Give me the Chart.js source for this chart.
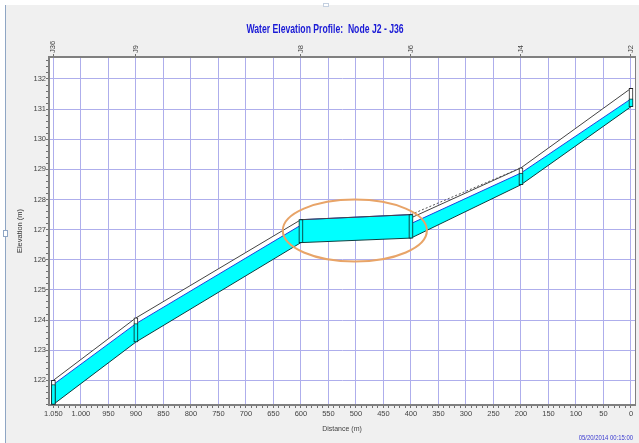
<!DOCTYPE html>
<html>
<head>
<meta charset="utf-8">
<title>Water Elevation Profile</title>
<script src="https://cdn.jsdelivr.net/npm/chart.js@4"></script>
<style>
  html, body { margin: 0; padding: 0; background: #ffffff; overflow: hidden; }
  #frame { position: absolute; left: 5px; top: 5px; width: 634px; height: 438px; background: #f0f0f0; border-left: 1px solid #8fa6c4; box-sizing: border-box; }
  #handle-left { position: absolute; left: 3px; top: 230px; width: 3px; height: 5px; background: #ffffff; border: 1px solid #8fa6c4; }
  #handle-top { position: absolute; left: 323px; top: 3px; width: 4px; height: 2px; background: #ffffff; border: 1px solid #c4d0e0; }
  #chart { position: absolute; left: 0; top: 0; }
</style>
</head>
<body>
<div id="frame"></div>
<div id="handle-left"></div>
<div id="handle-top"></div>
<canvas id="chart" width="639" height="443"></canvas>
<script>
// Profile vertices, 600 and 400 appear twice because the levels jump there
var distances = [1050, 900, 600, 600, 400, 400, 200, 0];
var invertLevels = [121.2, 123.27, 126.57, 126.57, 126.72, 126.72, 128.49, 131.08];
var waterLevels = [121.86, 123.88, 127.15, 127.33, 127.5, 127.2, 128.88, 131.34];
var crownLevels = [122.0, 124.07, 127.33, 127.33, 127.5, 127.39, 129.05, 131.69];

// Nodes along the profile
var nodeNames = ['J36', 'J9', 'J8', 'J6', 'J4', 'J2'];
var nodeDistances = [1050, 900, 600, 400, 200, 0];
var nodeInverts = [121.2, 123.27, 126.57, 126.72, 128.49, 131.08];
var nodeWater = [121.86, 123.88, 127.33, 127.5, 128.88, 131.34];
var nodeCrowns = [122.0, 124.07, 127.33, 127.5, 129.05, 131.69];

// Dotted line between J6 and J4
var dottedDistances = [400, 200];
var dottedLevels = [127.5, 129.05];

// Orange highlight: centre distance, centre elevation, half width, half height
var highlight = [502, 126.97, 131, 1.03];

var xRange = [-7.3, 1058];
var yRange = [121.18, 132.73];

var chartTitle = 'Water Elevation Profile:  Node J2 - J36';
var timestamp = '05/20/2014 00:15:00';

function toPoints(xs, ys) {
  return xs.map(function(x, i) { return { x: x, y: ys[i] }; });
}

function toBars(xs, lows, highs) {
  return xs.map(function(x, i) { return { x: x, y: [lows[i], highs[i]] }; });
}

// Tick list on a fixed step, only the values inside the axis range
function stepTicks(scale, stepTenths) {
  var ticks = [];
  var first = Math.ceil(scale.min * 10 / stepTenths);
  var last = Math.floor(scale.max * 10 / stepTenths);
  for (var k = first; k <= last; k++) {
    ticks.push({ value: k * stepTenths / 10 });
  }
  scale.ticks = ticks;
}

function isWhole(v, step) {
  return Math.abs(v / step - Math.round(v / step)) < 1e-6;
}

function formatDistance(v) {
  return v >= 1000 ? '1.' + String(v - 1000).padStart(3, '0') : String(v);
}

// The original uses a narrow face that is not installed, so squeeze the text
function drawNarrowText(ctx, text, x, y, font, color, align, squeeze) {
  ctx.save();
  ctx.translate(x, y);
  ctx.scale(squeeze, 1);
  ctx.font = font;
  ctx.fillStyle = color;
  ctx.textAlign = align;
  ctx.textBaseline = 'middle';
  ctx.fillText(text, 0, 0);
  ctx.restore();
}

// White plot area, right edge of the frame and the two captions
var plotFrame = {
  id: 'plotFrame',
  beforeDraw: function(chart) {
    var a = chart.chartArea;
    chart.ctx.fillStyle = '#ffffff';
    chart.ctx.fillRect(a.left, a.top, a.width, a.height);
  },
  afterDraw: function(chart) {
    var a = chart.chartArea, ctx = chart.ctx;
    ctx.save();
    ctx.strokeStyle = '#808080';
    ctx.lineWidth = 1;
    ctx.beginPath();
    ctx.moveTo(a.right + 0.5, a.top);
    ctx.lineTo(a.right + 0.5, a.bottom);
    ctx.stroke();
    ctx.restore();
    drawNarrowText(ctx, chartTitle, 325, 30, 'bold 12px "Liberation Sans", sans-serif', '#1a1ad6', 'center', 0.72);
    drawNarrowText(ctx, timestamp, 633, 438, '8px "Liberation Sans", sans-serif', '#3a3ad0', 'right', 0.74);
  }
};

// Ellipse placed through the scales
var highlightEllipse = {
  id: 'highlightEllipse',
  afterDatasetsDraw: function(chart) {
    var sx = chart.scales.x, sy = chart.scales.y, ctx = chart.ctx;
    var cx = sx.getPixelForValue(highlight[0]);
    var cy = sy.getPixelForValue(highlight[1]);
    var rx = Math.abs(sx.getPixelForValue(highlight[0] + highlight[2]) - cx);
    var ry = Math.abs(sy.getPixelForValue(highlight[1] + highlight[3]) - cy);
    ctx.save();
    ctx.strokeStyle = '#e8a468';
    ctx.lineWidth = 2;
    ctx.beginPath();
    ctx.ellipse(cx, cy, rx, ry, 0, 0, Math.PI * 2);
    ctx.stroke();
    ctx.restore();
  }
};

var labelFont = { family: '"Liberation Sans", sans-serif', size: 7.5 };

new Chart(document.getElementById('chart').getContext('2d'), {
  type: 'line',
  data: {
    datasets: [
      { type: 'bar', data: toBars(nodeDistances, nodeInverts, nodeWater), xAxisID: 'x', yAxisID: 'y', backgroundColor: '#00ffff', borderColor: '#0b3b3b', borderWidth: 1, borderSkipped: false, barThickness: 4, grouped: false, order: 1 },
      { type: 'bar', data: toBars(nodeDistances, nodeInverts, nodeCrowns), xAxisID: 'x', yAxisID: 'y', backgroundColor: '#ffffff', borderColor: '#222222', borderWidth: 1, borderSkipped: false, barThickness: 4, grouped: false, order: 2 },
      { data: toPoints(dottedDistances, dottedLevels), borderColor: '#555555', borderWidth: 1, borderDash: [2, 2], pointRadius: 0, fill: false, order: 3 },
      { data: toPoints(distances, crownLevels), borderColor: '#444444', borderWidth: 1, pointRadius: 0, tension: 0, fill: false, order: 4 },
      { data: toPoints(distances, invertLevels), borderColor: '#0c3f3f', borderWidth: 1, pointRadius: 0, tension: 0, fill: false, order: 5 },
      { data: toPoints(distances, waterLevels), borderColor: '#2244dd', borderWidth: 1, pointRadius: 0, tension: 0, fill: { target: 4 }, backgroundColor: '#00ffff', order: 6 },
      { data: toPoints(distances, crownLevels), borderColor: 'transparent', borderWidth: 0, pointRadius: 0, tension: 0, fill: { target: 5 }, backgroundColor: '#ffffff', order: 7 }
    ]
  },
  options: {
    responsive: false,
    animation: false,
    layout: { padding: { left: 15, right: 4, top: 37.4, bottom: 9.6 } },
    plugins: {
      legend: { display: false },
      tooltip: { enabled: false }
    },
    scales: {
      x: {
        type: 'linear',
        position: 'bottom',
        reverse: true,
        bounds: 'data',
        offset: false,
        min: xRange[0],
        max: xRange[1],
        afterFit: function(scale) { scale.height = 28.4; },
        afterBuildTicks: function(scale) { stepTicks(scale, 100); },
        title: { display: true, text: 'Distance (m)', color: '#444444', font: { family: labelFont.family, size: 7 }, padding: { top: 2, bottom: 0 } },
        border: { color: '#808080', width: 2 },
        grid: {
          offset: false,
          tickLength: 3,
          color: function(ctx) { return ctx.tick && isWhole(ctx.tick.value, 50) ? '#aeaeec' : 'transparent'; },
          tickColor: '#707070'
        },
        ticks: {
          autoSkip: false,
          maxRotation: 0,
          padding: 1,
          color: '#444444',
          font: labelFont,
          callback: function(v) { return isWhole(v, 50) ? formatDistance(Math.round(v)) : ''; }
        }
      },
      xTop: {
        type: 'linear',
        position: 'top',
        reverse: true,
        bounds: 'data',
        offset: false,
        min: xRange[0],
        max: xRange[1],
        afterFit: function(scale) { scale.height = 19.6; },
        afterBuildTicks: function(scale) {
          scale.ticks = nodeDistances.map(function(d) { return { value: d }; });
        },
        border: { color: '#808080', width: 2 },
        grid: { offset: false, drawOnChartArea: false, tickLength: 3, tickColor: '#707070' },
        ticks: {
          autoSkip: false,
          minRotation: 90,
          maxRotation: 90,
          labelOffset: 9,
          padding: 1,
          color: '#444444',
          font: labelFont,
          callback: function(v) { return nodeNames[nodeDistances.indexOf(v)]; }
        }
      },
      y: {
        type: 'linear',
        position: 'left',
        bounds: 'data',
        min: yRange[0],
        max: yRange[1],
        afterFit: function(scale) { scale.width = 34; },
        afterBuildTicks: function(scale) { stepTicks(scale, 2); },
        title: { display: true, text: 'Elevation (m)', color: '#333333', font: labelFont, padding: 0 },
        border: { color: '#808080', width: 2 },
        grid: {
          tickLength: 3,
          color: function(ctx) { return ctx.tick && isWhole(ctx.tick.value, 1) ? '#aeaeec' : 'transparent'; },
          tickColor: '#707070'
        },
        ticks: {
          autoSkip: false,
          padding: 0,
          color: '#444444',
          font: labelFont,
          callback: function(v) { return isWhole(v, 1) ? String(Math.round(v)) : ''; }
        }
      }
    }
  },
  plugins: [plotFrame, highlightEllipse]
});
</script>
</body>
</html>
